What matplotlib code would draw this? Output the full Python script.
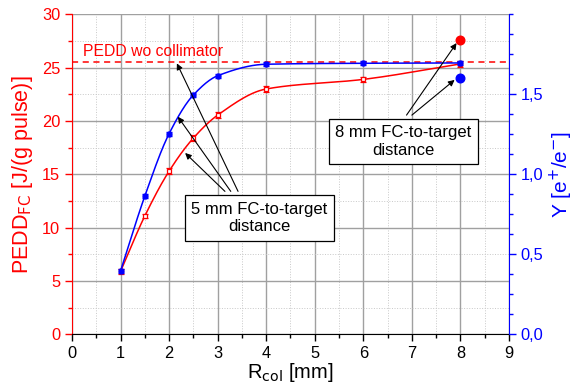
import numpy as np
import matplotlib
matplotlib.use("Agg")
import matplotlib.pyplot as plt
from matplotlib.ticker import MultipleLocator, FixedLocator

plt.rcParams['font.family'] = ['Liberation Sans', 'DejaVu Sans']

# collimator radius [mm]
r_col = [1, 1.5, 2, 2.5, 3, 4, 6, 8]
# PEDD in the flux concentrator [J/(g pulse)], 5 mm FC-to-target
pedd = [5.9, 11.1, 15.3, 18.4, 20.55, 23.0, 23.9, 25.35]
pedd_err = [0.2, 0.2, 0.25, 0.25, 0.25, 0.3, 0.2, 0.3]
# positron yield [e+/e-], 5 mm FC-to-target
yld = [0.396, 0.864, 1.254, 1.496, 1.616, 1.688, 1.694, 1.696]
yld_err = [0.012, 0.012, 0.012, 0.012, 0.012, 0.012, 0.012, 0.015]
# reference values
pedd_wo_coll = 25.5
r_8mm = 8
pedd_8mm = 27.6
yld_8mm = 1.6


def smooth(x, y, n=300):
    """Monotone cubic curve through the points (for drawing only)."""
    x = np.asarray(x, float)
    y = np.asarray(y, float)
    h = np.diff(x)
    d = np.diff(y) / h
    m = np.zeros_like(y)
    m[0] = d[0]
    m[-1] = d[-1]
    for k in range(1, len(x) - 1):
        if d[k - 1] * d[k] <= 0:
            m[k] = 0
        else:
            w1 = 2 * h[k] + h[k - 1]
            w2 = h[k] + 2 * h[k - 1]
            m[k] = (w1 + w2) / (w1 / d[k - 1] + w2 / d[k])
    xs = np.linspace(x[0], x[-1], n)
    i = np.clip(np.searchsorted(x, xs) - 1, 0, len(x) - 2)
    t = (xs - x[i]) / h[i]
    h00 = 2 * t**3 - 3 * t**2 + 1
    h10 = t**3 - 2 * t**2 + t
    h01 = -2 * t**3 + 3 * t**2
    h11 = t**3 - t**2
    ys = h00 * y[i] + h10 * h[i] * m[i] + h01 * y[i + 1] + h11 * h[i] * m[i + 1]
    return xs, ys


fig = plt.figure(figsize=(5.77, 3.89), dpi=100)
ax = fig.add_axes([0.1248, 0.1406, 0.7573, 0.8226])
ax2 = ax.twinx()

red = '#ff0000'
blue = '#0000ff'

# grid
ax.set_axisbelow(True)
ax.grid(which='major', color='#a0a0a0', lw=1.0, ls='-')
ax.grid(which='minor', color='#c8c8c8', lw=0.7, ls=':')

# PEDD (left axis)
xs, ys = smooth(r_col, pedd)
ax.plot(xs, ys, color=red, lw=1.1, zorder=3)
ax.errorbar(r_col, pedd, yerr=pedd_err, fmt='s', ms=3.2, mfc='white', mec=red,
            mew=0.9, ecolor=red, elinewidth=0.8, capsize=2.5, zorder=4)
ax.axhline(pedd_wo_coll, color=red, ls=(0, (4, 3)), lw=1.1, zorder=3)
ax.plot([r_8mm], [pedd_8mm], 'o', color=red, ms=6.2, zorder=5)
ax.text(0.23, 26.5, 'PEDD wo collimator', color=red, fontsize=11.3,
        ha='left', va='center')

# yield (right axis)
xs, ys = smooth(r_col, yld)
ax2.plot(xs, ys, color=blue, lw=1.1, zorder=3)
ax2.errorbar(r_col, yld, yerr=yld_err, fmt='o', ms=3.5, color=blue,
             ecolor=blue, elinewidth=0.8, capsize=2.5, zorder=4)
ax2.plot([r_8mm], [yld_8mm], 'o', color=blue, ms=6.2, zorder=5)

# axes ranges and ticks
ax.set_xlim(0, 9)
ax.set_ylim(0, 30)
ax2.set_ylim(0, 2)
ax.xaxis.set_major_locator(MultipleLocator(1))
ax.xaxis.set_minor_locator(MultipleLocator(0.5))
ax.yaxis.set_major_locator(MultipleLocator(5))
ax.yaxis.set_minor_locator(MultipleLocator(2.5))
ax2.yaxis.set_major_locator(FixedLocator([0, 0.5, 1.0, 1.5]))
ax2.set_yticklabels(['0,0', '0,5', '1,0', '1,5'])
ax2.yaxis.set_minor_locator(MultipleLocator(0.125))

ax.tick_params(which='both', direction='out', labelsize=11.8)
ax.tick_params(which='major', length=5, width=1)
ax.tick_params(which='minor', length=3, width=1)
ax.tick_params(axis='y', which='both', colors=red)
ax2.tick_params(which='both', direction='out', colors=blue, labelsize=11.8)
ax2.tick_params(which='major', length=5, width=1)
ax2.tick_params(which='minor', length=3, width=1)

for a in (ax, ax2):
    a.spines['top'].set_visible(False)
ax.spines['right'].set_visible(False)
ax2.spines['left'].set_visible(False)
ax2.spines['bottom'].set_visible(False)
ax.spines['left'].set_color(red)
ax2.spines['right'].set_color(blue)

ax.set_xlabel('R$_{\\mathrm{col}}$ [mm]', fontsize=14.5, labelpad=0)
ax.set_ylabel('PEDD$_{\\mathrm{FC}}$ [J/(g pulse)]', fontsize=15.5, color=red,
              labelpad=5)
ax2.set_ylabel('Y [e$^{+}$/e$^{-}$]', fontsize=15, color=blue, labelpad=3)

# annotations (left-axis data coordinates, drawn on top)
box = dict(boxstyle='square,pad=0.4', fc='white', ec='black', lw=0.9)
arrow = dict(arrowstyle='-|>', color='black', lw=0.8, mutation_scale=9,
             shrinkA=0, shrinkB=0)
ax2.text(3.86, 10.9, '5 mm FC-to-target\ndistance', transform=ax.transData,
         ha='center', va='center', fontsize=12, bbox=box, zorder=6)
for tail, tip in [((3.15, 13.4), (2.33, 17.0)),
                  ((3.27, 13.4), (2.18, 20.4)),
                  ((3.42, 13.4), (2.16, 25.4))]:
    ax2.annotate('', xy=tip, xytext=tail, xycoords=ax.transData,
                 textcoords=ax.transData, arrowprops=arrow, zorder=6)

ax2.text(6.83, 18.07, '8 mm FC-to-target\ndistance', transform=ax.transData,
         ha='center', va='center', fontsize=12, bbox=box, zorder=6)
for tail, tip in [((6.89, 20.55), (7.92, 27.3)),
                  ((7.0, 20.55), (7.88, 23.85))]:
    ax2.annotate('', xy=tip, xytext=tail, xycoords=ax.transData,
                 textcoords=ax.transData, arrowprops=arrow, zorder=6)

fig.savefig('out.png', dpi=100)
